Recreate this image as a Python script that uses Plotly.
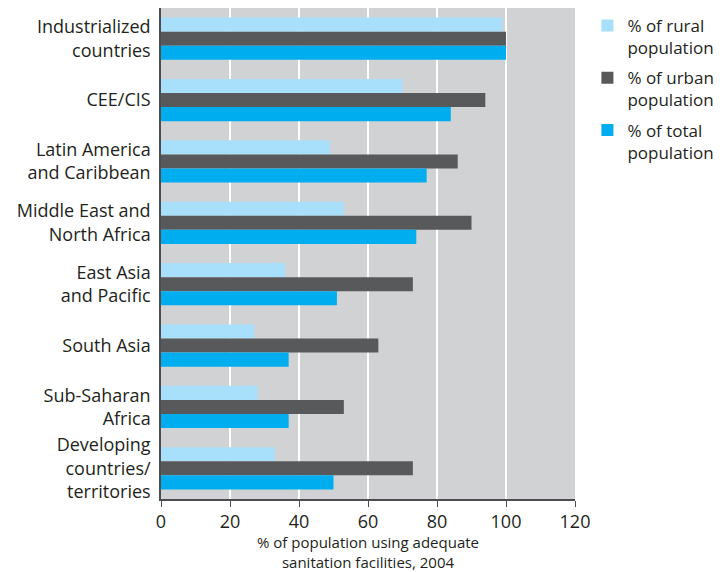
import plotly.graph_objects as go

categories = ["Industrialized<br>countries", "CEE/CIS", "Latin America<br>and Caribbean",
              "Middle East and<br>North Africa", "East Asia<br>and Pacific", "South Asia",
              "Sub-Saharan<br>Africa", "Developing<br>countries/<br>territories"]
rural = [99, 70, 49, 53, 36, 27, 28, 33]
urban = [100, 94, 86, 90, 73, 63, 53, 73]
total = [100, 84, 77, 74, 51, 37, 37, 50]
series_names = ["% of rural<br>population", "% of urban<br>population", "% of total<br>population"]
x_ticks = [0, 20, 40, 60, 80, 100, 120]

colors = ["#A8DFFA", "#58595B", "#00AEEF"]
font = "Open Sans"

fig = go.Figure()
for i, (name, vals, c) in enumerate(zip(series_names, [rural, urban, total], colors)):
    fig.add_trace(go.Bar(y=categories, x=vals, name=name, orientation="h",
                         legendgroup=f"g{i}",
                         marker=dict(color=c, line=dict(width=0))))

fig.update_layout(
    width=715, height=564,
    margin=dict(l=153, r=148, t=0, b=73, autoexpand=False),
    barmode="group", bargap=0.31, bargroupgap=0,
    plot_bgcolor="#D1D2D4", paper_bgcolor="white",
    font=dict(family=font, color="#231F20", size=17),
    legend=dict(x=1.03, y=1.0, xanchor="left", yanchor="top", valign="top",
                font=dict(size=17, color="#231F20"), tracegroupgap=5,
                itemwidth=30, bgcolor="rgba(0,0,0,0)"),
    xaxis=dict(range=[0, 120], tickvals=x_ticks, showgrid=True, gridcolor="white",
               gridwidth=1.5, zeroline=False, showline=True, linecolor="#4D4D4F",
               linewidth=1.5, ticks="outside", ticklen=6, tickcolor="#4D4D4F",
               tickfont=dict(size=18), fixedrange=True,
               title=dict(text="% of population using adequate<br>sanitation facilities, 2004",
                          font=dict(size=15), standoff=10)),
    yaxis=dict(autorange="reversed", showline=True, linecolor="#4D4D4F", linewidth=1.5,
               ticks="", ticklabelstandoff=5, tickfont=dict(size=18), showgrid=False),
)

fig.write_html("out.html")
